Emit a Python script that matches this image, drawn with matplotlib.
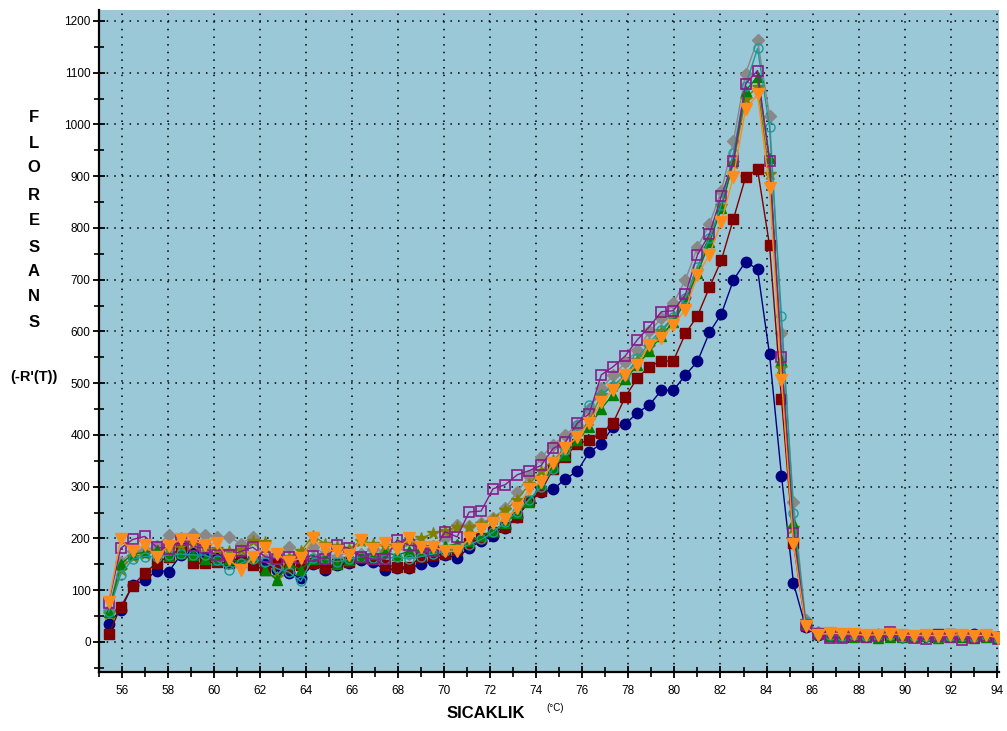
import matplotlib
matplotlib.use("Agg")
import matplotlib.pyplot as plt
from matplotlib.ticker import MultipleLocator

plt.rcParams['font.family'] = ['Liberation Sans', 'DejaVu Sans']

# Melt-curve temperatures (°C)
temps = [55.42, 55.94, 56.46, 56.99, 57.51, 58.03, 58.55, 59.07, 59.60, 60.12,
         60.64, 61.16, 61.68, 62.21, 62.73, 63.25, 63.77, 64.29, 64.82, 65.34,
         65.86, 66.38, 66.90, 67.43, 67.95, 68.47, 68.99, 69.51, 70.04, 70.56,
         71.08, 71.60, 72.12, 72.65, 73.17, 73.69, 74.21, 74.73, 75.26, 75.78,
         76.30, 76.82, 77.34, 77.87, 78.39, 78.91, 79.43, 79.95, 80.48, 81.00,
         81.52, 82.04, 82.56, 83.09, 83.61, 84.13, 84.65, 85.17, 85.70, 86.22,
         86.74, 87.26, 87.78, 88.31, 88.83, 89.35, 89.87, 90.39, 90.92, 91.44,
         91.96, 92.48, 93.00, 93.53, 94.05]

# Negative derivative of fluorescence, -R'(T), per sample
s_navy = [35, 62, 110, 119, 138, 136, 168, 172, 165, 162,
          160, 158, 160, 150, 140, 133, 124, 150, 139, 148,
          152, 158, 155, 139, 142, 143, 150, 157, 168, 162,
          182, 195, 205, 220, 242, 272, 289, 295, 315, 330,
          367, 383, 416, 421, 443, 458, 486, 486, 516, 542,
          598, 634, 699, 735, 720, 556, 321, 114, 29,
          14, 13, 12, 11, 13, 12, 12, 10, 11, 12, 10, 12, 12, 16, 11, 9]

s_maroon = [15, 67, 109, 133, 153, 165, 181, 152, 152, 155,
            152, 158, 149, 139, 150, 142, 148, 152, 143, 150,
            155, 162, 160, 149, 145, 145, 165, 168, 170, 178,
            192, 200, 212, 222, 242, 272, 292, 334, 358, 383,
            390, 403, 424, 474, 510, 532, 543, 543, 596, 630,
            685, 738, 817, 898, 913, 767, 470, 191, 30,
            18, 16, 14, 13, 12, 14, 13, 12, 11, 13, 15, 16, 12, 11, 12, 10]

s_gray = [62, 155, 175, 178, 185, 207, 200, 209, 207, 203,
          203, 190, 203, 160, 165, 184, 160, 184, 170, 165,
          175, 170, 180, 175, 185, 170, 180, 185, 200, 226,
          224, 230, 240, 258, 290, 320, 357, 381, 400, 419,
          450, 490, 515, 540, 564, 600, 625, 654, 700, 763,
          807, 872, 967, 1098, 1163, 1017, 597, 270, 42,
          20, 16, 15, 14, 13, 14, 12, 13, 11, 12, 13, 12, 11, 10, 12, 9]

s_teal = [58, 130, 160, 165, 165, 168, 170, 168, 168, 158,
          140, 152, 160, 155, 142, 135, 117, 162, 160, 155,
          160, 165, 162, 160, 165, 160, 165, 170, 175, 180,
          188, 198, 212, 232, 252, 275, 300, 335, 370, 420,
          458, 478, 495, 515, 548, 578, 603, 628, 665, 725,
          780, 845, 945, 1075, 1147, 995, 630, 250, 38,
          18, 14, 12, 13, 11, 12, 14, 10, 12, 11, 10, 12, 11, 10, 11, 8]

s_purple = [76, 181, 198, 204, 183, 180, 197, 185, 181, 168,
            168, 175, 183, 165, 160, 165, 162, 167, 160, 187,
            181, 165, 160, 160, 197, 187, 184, 175, 213, 203,
            251, 253, 296, 304, 323, 331, 341, 374, 386, 423,
            441, 516, 532, 553, 584, 609, 638, 640, 672, 748,
            788, 862, 929, 1078, 1104, 930, 551, 210, 33,
            15, 8, 8, 12, 10, 11, 20, 13, 8, 5, 12, 10, 4, 8, 12, 6]

s_green = [58, 150, 170, 173, 178, 167, 172, 168, 160, 158,
           160, 155, 165, 139, 120, 150, 140, 160, 165, 150,
           158, 165, 170, 172, 168, 175, 178, 180, 185, 190,
           195, 205, 215, 230, 250, 270, 305, 338, 362, 390,
           415, 451, 478, 508, 535, 562, 592, 618, 658, 712,
           772, 838, 930, 1065, 1092, 935, 545, 230, 35,
           16, 12, 12, 10, 9, 8, 10, 9, 10, 12, 8, 9, 10, 8, 9, 7]

s_olive = [55, 140, 165, 170, 175, 180, 185, 190, 185, 180,
           175, 178, 195, 194, 126, 165, 175, 205, 190, 185,
           180, 195, 190, 185, 190, 195, 200, 210, 215, 223,
           223, 228, 238, 255, 275, 305, 330, 352, 372, 398,
           428, 478, 495, 515, 545, 570, 600, 625, 662, 716,
           776, 842, 925, 1050, 1073, 905, 530, 220, 35,
           17, 14, 13, 15, 12, 16, 13, 11, 12, 13, 12, 11, 13, 10, 11, 9]

s_orange = [78, 198, 175, 187, 165, 186, 198, 197, 187, 191,
            160, 139, 164, 181, 170, 155, 162, 200, 179, 175,
            168, 197, 179, 191, 179, 200, 184, 184, 175, 175,
            200, 218, 229, 237, 258, 295, 310, 346, 374, 396,
            424, 464, 487, 516, 535, 574, 587, 613, 642, 709,
            748, 812, 899, 1029, 1058, 877, 507, 190, 30,
            14, 17, 16, 15, 13, 14, 16, 14, 12, 13, 12, 13, 14, 12, 13, 8]

x_ticks = list(range(56, 95, 2))
y_ticks = list(range(0, 1201, 100))

W, H = 1007, 731
fig = plt.figure(figsize=(W / 100, H / 100), dpi=100)
ax = fig.add_axes([99 / W, 1 - 672 / H, (999 - 99) / W, (672 - 10) / H])
ax.set_facecolor('#9bc8d7')

series = [
    (s_gray,   dict(color='#888888', marker='D', ms=6.5, mfc='#888888', mec='#888888')),
    (s_navy,   dict(color='#000080', marker='o', ms=7.5, mfc='#000080', mec='#000080')),
    (s_maroon, dict(color='#800000', marker='s', ms=7.5, mfc='#800000', mec='#800000')),
    (s_olive,  dict(color='#808000', marker='*', ms=9,   mfc='#808000', mec='#808000')),
    (s_green,  dict(color='#008000', marker='^', ms=7,   mfc='#008000', mec='#008000')),
    (s_teal,   dict(color='#1a9a9a', marker='o', ms=6.5, mfc='none',    mec='#1a9a9a', mew=1.0)),
    (s_purple, dict(color='#8a1a8a', marker='s', ms=7.5, mfc='none',    mec='#8a1a8a', mew=1.2)),
    (s_orange, dict(color='#ff8c1a', marker='v', ms=8.5, mfc='#ff8c1a', mec='#ff8c1a')),
]
for vals, style in series:
    ax.plot(temps, vals, lw=1.0, **style, zorder=3)

ax.set_xlim(55.0, 94.1)
ax.set_ylim(-58, 1221)
ax.set_xticks(x_ticks)
ax.set_yticks(y_ticks)
ax.xaxis.set_minor_locator(MultipleLocator(1))
ax.yaxis.set_minor_locator(MultipleLocator(50))

ax.set_axisbelow(True)
ax.grid(True, which='major', color='black', linestyle=(0, (1, 4)), linewidth=1.1)

for side in ('top', 'right'):
    ax.spines[side].set_visible(False)
for side in ('left', 'bottom'):
    ax.spines[side].set_linewidth(1.6)
    ax.spines[side].set_color('black')

ax.tick_params(which='major', direction='inout', length=8, width=1.3, labelsize=8.5, pad=2)
ax.tick_params(which='minor', direction='inout', length=7, width=1.2)
ax.tick_params(axis='x', which='major', pad=5)

def fx(px):
    return px / W

def fy(py):
    return 1 - py / H

# Vertical axis title, one letter per line
letters = "FLORESANS"
letter_y = [117, 143, 168, 195, 220, 247, 272, 297, 322]
for ch, py in zip(letters, letter_y):
    fig.text(fx(34), fy(py), ch, ha='center', va='center', fontsize=12, fontweight='bold')
fig.text(fx(34), fy(377), "(-R'(T))", ha='center', va='center', fontsize=10.5, fontweight='bold')

fig.text(fx(486), fy(714), "SICAKLIK", ha='center', va='center', fontsize=12, fontweight='bold')
fig.text(fx(555), fy(708), "(°C)", ha='center', va='center', fontsize=7)

fig.savefig('out.png', dpi=100)
